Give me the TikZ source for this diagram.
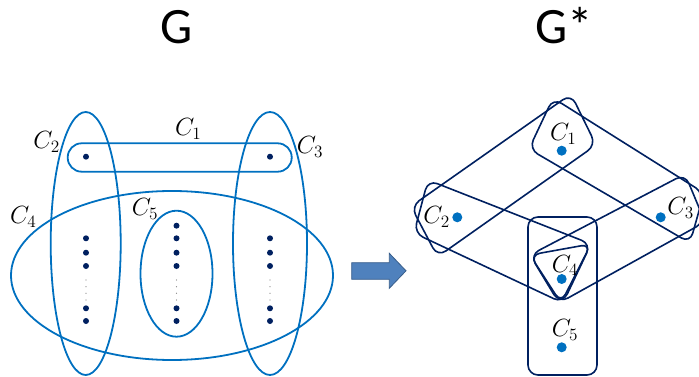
\documentclass[tikz,border=0pt]{standalone}
\usepackage{amsmath}
\usepackage{fontspec}
\newfontfamily\titlefont{Carlito}
\usepackage{tikz}
\usepackage{xcolor}
\usetikzlibrary{shapes.geometric}

\definecolor{hblue}{RGB}{0,112,192}
\definecolor{hnavy}{RGB}{0,32,96}
\definecolor{arrfill}{RGB}{79,129,189}
\definecolor{arrline}{RGB}{56,93,138}

\begin{document}
\begin{tikzpicture}[x=1pt, y=-1pt,
    gedge/.style={draw=hblue, line width=1.8pt, inner sep=0pt},
    sedge/.style={draw=hnavy, line width=1.6pt, rounded corners=10pt},
    gdot/.style={circle, fill=hnavy, minimum size=6pt, inner sep=0pt},
    sdot/.style={circle, fill=hblue, minimum size=10pt, inner sep=0pt},
    lab/.style={font=\huge, inner sep=0pt, scale=1.2, transform shape},
    ttl/.style={font=\titlefont\fontsize{51}{56}\selectfont, inner sep=0pt, anchor=base}]
    \useasboundingbox (0,0) rectangle (699,377);
    \node[ttl] (tG) at (177,43.3) {G};
    \node[ttl] (tGs) at (564,43.3) {G*};
    % hypergraph G
    \node[gedge, ellipse, minimum width=70pt, minimum height=263pt] (g2) at (85.7,243.5) {};
    \node[gedge, ellipse, minimum width=74pt, minimum height=263pt] (g3) at (270,243.5) {};
    \node[gedge, ellipse, minimum width=322pt, minimum height=169pt] (g4) at (172,275.5) {};
    \node[gedge, ellipse, minimum width=72pt, minimum height=126pt] (g5) at (176.5,273.7) {};
    \node[gedge, rectangle, rounded corners=14pt, minimum width=224pt, minimum height=28.4pt] (g1) at (179.7,157.5) {};
    \node[gdot] (v12) at (86,156.7) {};
    \node[gdot] (v13) at (270,156.7) {};
    \foreach \x in {86,176.5,270}
        \foreach \y in {238.3,252.7,266,308.3,321}
            \fill[hnavy] (\x,\y) circle (3pt);
    \fill[hnavy] (176.5,225.7) circle (3pt);
    \foreach \x in {86,176.5,270}
        \foreach \y in {280,286.7,293.3,300}
            \fill[gray] (\x,\y) circle (0.6pt);
    \node[lab] (l1) at (188.3,129) {$C_1$};
    \node[lab] (l2) at (46.7,141.7) {$C_2$};
    \node[lab] (l3) at (310,146.7) {$C_3$};
    \node[lab] (l4) at (23.3,216.7) {$C_4$};
    \node[lab] (l5) at (145,209) {$C_5$};
    % block arrow
    \draw[draw=arrline, fill=arrfill, line width=0.8pt] (351.7,262.7) -- (389.3,262.7) -- (389.3,253.3)
        -- (406,270.8) -- (389.3,288.3) -- (389.3,279.3) -- (351.7,279.3) -- cycle;
    % dual G*
    \draw[sedge] (411,206.4) -- (571,94) -- (596,145) -- (437.6,256.8) -- cycle;
    \draw[sedge] (553,98) -- (704,193) -- (690,243) -- (529,149) -- cycle;
    \draw[sedge] (428,180) -- (591,244) -- (563,303) -- (414,233) -- cycle;
    \draw[sedge] (530,255) -- (685,174) -- (705,222) -- (559,303) -- cycle;
    \draw[sedge] (530,255) -- (591,244) -- (561,303) -- cycle;
    \draw[sedge] (528,217) rectangle (597,375);
    \node[sdot] (c1) at (561.7,150.7) {};
    \node[sdot] (c2) at (457.3,217.3) {};
    \node[sdot] (c3) at (660.7,217.3) {};
    \node[sdot] (c4) at (561.7,279) {};
    \node[sdot] (c5) at (561.7,347.3) {};
    \node[lab] (k1) at (563.3,134) {$C_1$};
    \node[lab] (k2) at (436.7,216.7) {$C_2$};
    \node[lab] (k3) at (680.7,208.3) {$C_3$};
    \node[lab] (k4) at (565,265.5) {$C_4$};
    \node[lab] (k5) at (565,330) {$C_5$};
\end{tikzpicture}
\end{document}
